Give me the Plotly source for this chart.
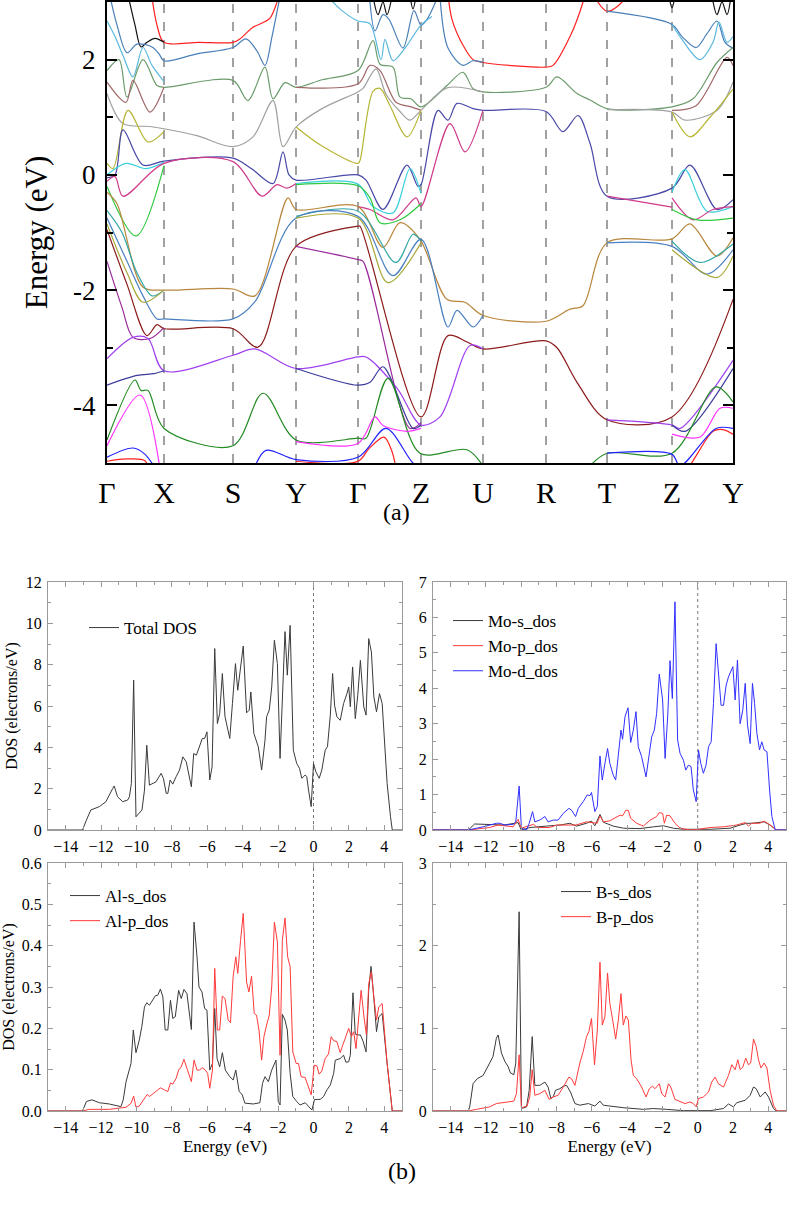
import plotly.graph_objects as go

FONT = "Liberation Serif, Times New Roman, Times, serif"

# ---------------- Band structure data ----------------
K_POINTS = [0, 57, 126, 189, 251, 314, 376, 439, 500, 565, 626]
K_LABELS = ["Γ", "X", "S", "Y", "Γ", "Z", "U", "R", "T", "Z", "Y"]

RED_TOP = [(44, 3.2), (50, 2.6), (57, 2.30), (92, 2.30), (126, 2.30), (133, 2.36), (145, 2.55), (158, 2.66),
           (163, 2.72), (170, 3.0), (174, 3.3), None,
           (340, 3.3), (345, 2.7), (356, 2.25), (366, 2.0), (376, 1.95), (439, 1.87), (446, 1.9), (463, 2.4),
           (476, 3.0), (480, 3.3), None,
           (484, 3.2), (500, 2.84), (515, 3.0), (520, 3.2)]
RED_LOW = [(0, -4.97), (20, -4.93), (38, -4.96), (42, -5.2), None,
           (189, -4.97), (251, -4.97), (262, -4.75), (277, -4.55), (285, -4.8), (290, -5.2), None,
           (578, -5.2), (590, -4.85), (606, -4.45), (616, -4.42), (626, -4.5)]
BLACK_TOP = [(20, 3.2), (28, 2.6), (34, 2.22), (40, 2.3), (48, 2.37), (57, 2.30), None,
             (266, 3.1), (271, 2.78), (276, 3.0), (280, 2.78), (285, 3.1), None,
             (303, 3.1), (306, 2.88), (309, 3.1), None,
             (562, 3.1), (565, 2.9), (568, 3.1), None,
             (605, 3.1), (610, 2.78), (615, 3.0), (620, 2.78), (624, 3.1)]
STEEL_TOP = [(3, 3.1), (10, 2.6), (20, 2.12), (30, 2.27), (45, 2.22), (52, 2.1), (57, 1.98), (90, 2.1),
             (126, 2.21), (139, 2.36), (150, 2.15), (158, 1.90), (165, 2.4), (172, 3.0), (175, 3.2), None,
             (262, 3.2), (268, 2.5), (276, 2.78), (282, 2.7), (296, 2.2), (307, 2.85), (314, 2.6),
             (320, 2.7), (331, 3.1), None,
             (333, 3.1), (341, 2.2), (356, 1.9), (366, 1.98), (376, 1.95), None,
             (500, 2.84), (565, 2.61), (575, 2.4), (589, 2.21), (600, 2.45), (610, 2.67), (618, 2.3), (626, 2.2)]
CYAN_TOP = [(0, 2.67), (8, 2.4), (16, 2.07), (26, 1.70), (36, 2.21), (45, 1.9), (57, 1.62), None,
            (215, 3.2), (235, 2.85), (251, 2.67), (263, 2.62), (274, 2.0), (278, 2.35), (286, 1.98),
            (298, 2.2), (314, 2.6), (325, 2.75), None,
            (565, 2.61), (575, 2.35), (593, 2.0), (606, 2.3), (612, 2.65), (620, 2.3), (626, 2.4)]
SEAGREEN = [(0, 1.81), (12, 2.0), (20, 1.35), (36, 2.0), (50, 1.55), (57, 1.52), (126, 1.64), (141, 1.29),
            (158, 1.87), (166, 1.32), (178, 1.6), (189, 1.52), (215, 1.65), (251, 1.81), (266, 2.33),
            (273, 1.92), (286, 1.87), (293, 1.35), (304, 1.32), (314, 1.18), (340, 1.55), (356, 1.78),
            (366, 1.5), (376, 1.44), (439, 1.52), (450, 1.7), (470, 1.41), (483, 1.3), (500, 1.15), (565, 1.18),
            (586, 1.32), (610, 1.95), (626, 2.21)]
ROSY = [(0, 1.61), (19, 1.26), (26, 1.64), (43, 1.09), (57, 1.52), None,
        (189, 1.52), (251, 1.58), (263, 1.9), (273, 1.81), (289, 1.26), (304, 1.18), (314, 1.12), None,
        (565, 1.12), (589, 1.2), (620, 2.04), (626, 1.9)]
GRAY = [(0, 1.41), (16, 0.89), (43, 0.84), (57, 0.8), (90, 0.68), (126, 0.49), (146, 0.66), (166, 1.29),
        (176, 0.49), (189, 0.83), (215, 1.15), (251, 1.44), (256, 1.5), (269, 1.84), (279, 1.4), (293, 1.1),
        (303, 0.95), (314, 1.12), (340, 1.51), (376, 1.44), None,
        (500, 1.13), (565, 1.09), (578, 0.95), (610, 1.12), (626, 1.61)]
OLIVE = [(0, 0.2), (6, 0.11), (21, 1.12), (41, 0.57), (57, 0.75), None,
         (189, 0.83), (215, 0.5), (251, 0.2), (253, 0.25), (266, 1.45), (273, 1.5), (283, 1.2), (300, 0.66),
         (314, 1.12), None,
         (565, 1.09), (583, 0.66), (603, 1.0), (626, 1.49)]
SLATE = [(0, -0.05), (8, 0.0), (16, 0.78), (36, 0.17), (57, 0.24), (126, 0.29), (145, 0.1), (166, -0.15),
         (176, 0.40), (182, 0.0), (189, -0.09), (251, 0.0), (259, -0.09), (276, -0.6), (300, 0.17),
         (311, -0.2), (314, -0.17), (331, 1.12), (341, 0.95), (350, 1.24), (366, 1.15), (376, 1.12),
         (439, 1.10), (456, 0.75), (471, 1.03), (483, 0.55), (500, -0.37), (565, -0.23), (583, 0.17),
         (610, -0.6), (626, -0.43)]
CYAN_LOW = [(0, 0.0), (19, 0.2), (39, 0.11), (57, 0.22), None,
            (189, -0.15), (251, -0.16), (266, -0.55), (286, -0.66), (303, 0.11), (314, -0.32), None,
            (565, -0.3), (578, 0.09), (600, -0.63), (626, -0.55)]
PINK = [(0, -0.11), (8, -0.03), (16, -0.37), (57, 0.2), (126, 0.23), (155, -0.37), (170, -0.17),
        (180, -0.23), (189, -0.15), None,
        (251, -0.55), (263, -0.6), (286, -0.78), (309, -0.4), (314, -0.55), (343, 0.89), (358, 0.4),
        (376, 1.12), None,
        (500, -0.37), (565, -0.56), None,
        (565, -0.4), (586, -0.78), (606, -0.6), (626, -0.55)]
LIME = [(0, -0.2), (29, -1.06), (57, 0.16), None,
        (189, -0.17), (251, -0.19), (263, -0.4), (273, -0.83), (293, -0.78), (314, -0.5), None,
        (565, -0.6), (590, -0.78), (626, -0.75)]
TAN = [(0, -0.3), (10, -0.5), (36, -1.95), (57, -2.0), (126, -1.98), (148, -2.1), (181, -0.4), (189, -0.6),
       (251, -0.55), (276, -1.26), (293, -0.83), (313, -1.12), (340, -2.16), (358, -2.21), (376, -2.44),
       (439, -2.54), (463, -2.33), (476, -2.27), (500, -1.18), (565, -1.11), (583, -0.85), (610, -1.41),
       (626, -1.09)]
TEAL = [(0, -0.62), (15, -1.0), (30, -1.7), (45, -2.1), (57, -2.0), None,
        (189, -0.72), (251, -0.63), (289, -1.52), (306, -1.03), (314, -1.15), None,
        (565, -1.15), (593, -1.52), (626, -1.2)]
STEEL_LOW = [(0, -0.75), (20, -1.5), (36, -2.1), (50, -2.5), (57, -2.5), (126, -2.5), (148, -2.2),
             (189, -0.75), (251, -0.72), (286, -1.75), (314, -1.12), (341, -2.64), (350, -2.35),
             (366, -2.64), (376, -2.44), None,
             (500, -1.18), (565, -1.24), (600, -1.72), (626, -1.3)]
OLIVE_LOW = [(0, -0.85), (20, -1.7), (36, -2.21), (57, -2.0), None,
             (189, -0.75), (251, -0.75), (281, -1.87), (314, -1.18), None,
             (565, -1.3), (610, -1.78), (626, -1.41)]
DARKRED = [(0, -0.95), (20, -1.9), (40, -2.79), (50, -2.6), (57, -2.67), (126, -2.67), (151, -2.99),
           (189, -1.24), (251, -0.89), (253, -0.89), (314, -4.2), (341, -2.79), (360, -2.9), (376, -3.02),
           (439, -2.88), (450, -3.0), (470, -3.6), (500, -4.25), (565, -4.2), (626, -2.16)]
PURPLE = [(0, -1.5), (15, -2.3), (26, -2.82), (43, -2.84), (57, -2.65), None,
          (189, -1.24), (251, -1.47), (256, -1.5), (303, -4.4), (314, -4.3)]
VIOLET = [(0, -3.19), (26, -2.82), (41, -2.84), (57, -3.4), (126, -3.13), (148, -3.02), (189, -3.36),
          (251, -3.16), (259, -3.16), (290, -3.7), (314, -4.34), (333, -4.2), (363, -2.96), (376, -3.02), None,
          (500, -4.25), (565, -4.34), (573, -4.4), (626, -3.22)]
NAVY = [(0, -3.65), (30, -3.48), (47, -3.45), (57, -3.4), None,
        (189, -3.36), (251, -3.65), (263, -3.6), (276, -3.33), (306, -4.4), (314, -4.34), None,
        (565, -4.34), (578, -4.45), (626, -3.36)]
GREEN = [(0, -4.6), (28, -3.56), (34, -3.74), (41, -3.74), (57, -4.4), (126, -4.7), (156, -3.79),
         (189, -4.6), (251, -4.57), (259, -4.57), (281, -3.53), (313, -4.83), (360, -4.77), (376, -5.05), None,
         (483, -5.05), (500, -4.83), (565, -4.83), (609, -3.68), (626, -3.94)]
MAGENTA = [(0, -4.7), (33, -3.82), (53, -5.1), None,
           (189, -4.63), (251, -4.66), (268, -4.2), (276, -4.35), (300, -4.45), (314, -4.4), None,
           (565, -4.5), (593, -4.55), (613, -4.05), (626, -4.05)]
BLUE = [(0, -4.9), (26, -4.74), (38, -4.85), (52, -5.2), None,
        (147, -5.1), (159, -4.78), (189, -4.94), (251, -4.9), (279, -4.4), (306, -5.0), (316, -5.1), None,
        (500, -4.83), (565, -4.85), (573, -5.05), (609, -4.4), (626, -4.4)]

BANDS = [
    (RED_TOP, "#ff2020"), (RED_LOW, "#ff2020"), (BLACK_TOP, "#111111"), (STEEL_TOP, "#4a7fb8"),
    (CYAN_TOP, "#58b8dc"), (SEAGREEN, "#6b9b6b"), (ROSY, "#a06868"), (GRAY, "#a0a0a0"),
    (OLIVE, "#b5b532"), (SLATE, "#4848a8"), (CYAN_LOW, "#3ad0dc"), (PINK, "#d03a8a"),
    (LIME, "#30c840"), (TAN, "#b8863b"), (TEAL, "#30a5a5"), (STEEL_LOW, "#4a80c0"),
    (OLIVE_LOW, "#a8a838"), (DARKRED, "#8b1a1a"), (PURPLE, "#9a2a9a"), (VIOLET, "#a040f0"),
    (NAVY, "#3a3a9a"), (GREEN, "#228b22"), (MAGENTA, "#ff30ff"), (BLUE, "#2222ff"),
]

# ---------------- DOS data ----------------
TOTAL_E = [-15, -13.05, -12.83, -12.58, -12.1, -11.73, -11.35, -11.26, -11.07, -10.78, -10.5, -10.4, -10.29,
           -10.16, -10.03, -9.84, -9.69, -9.55, -9.42, -9.27, -8.9, -8.61, -8.48, -8.32, -8.23, -8.1, -7.95,
           -7.76, -7.57, -7.38, -7.19, -6.9, -6.77, -6.62, -6.43, -6.28, -6.15, -6.02, -5.86, -5.73, -5.58,
           -5.43, -5.3, -5.15, -5.0, -4.73, -4.58, -4.41, -4.28, -4.12, -3.97, -3.78, -3.63, -3.54, -3.37,
           -3.12, -2.93, -2.74, -2.65, -2.5, -2.36, -2.21, -2.04, -1.89, -1.74, -1.61, -1.48, -1.32, -1.14,
           -0.95, -0.79, -0.66, -0.47, -0.38, -0.28, -0.13, 0.0, 0.13, 0.32, 0.47, 0.66, 0.79, 0.95, 1.08,
           1.19, 1.32, 1.51, 1.70, 1.89, 1.99, 2.08, 2.21, 2.36, 2.5, 2.65, 2.84, 2.97, 3.12, 3.27, 3.41,
           3.56, 3.73, 3.88, 4.01, 4.16, 4.35, 4.45, 5.0]
TOTAL_DOS = [0, 0, 0.48, 0.97, 1.13, 1.37, 2.0, 2.13, 1.61, 1.37, 1.45, 1.61, 2.25, 7.25, 0.64, 0.8, 0.97,
             1.93, 4.1, 2.17, 2.33, 2.74, 2.5, 1.77, 1.77, 2.42, 2.22, 2.58, 2.9, 3.54, 3.3, 2.09, 3.7, 3.62,
             4.03, 4.43, 4.43, 4.75, 2.42, 3.06, 8.78, 5.15, 5.64, 7.57, 5.48, 4.43, 6.12, 8.05, 6.76, 7.97,
             8.9, 5.67, 5.8, 6.68, 4.67, 4.03, 2.9, 4.35, 5.48, 5.8, 6.92, 9.18, 8.05, 3.46, 7.25, 9.6, 7.49,
             9.9, 3.86, 3.22, 2.98, 2.5, 2.66, 2.58, 1.93, 1.13, 3.22, 2.82, 2.5, 2.9, 3.86, 4.03, 5.56, 7.57,
             6.04, 5.48, 5.31, 6.12, 6.6, 6.92, 5.96, 7.89, 5.39, 6.52, 8.21, 5.96, 5.56, 9.26, 8.62, 6.44,
             5.72, 6.6, 6.12, 4.51, 2.25, 0.64, 0, 0]

MOD_E = [-15, -13.0, -12.16, -11.4, -11.22, -10.93, -10.46, -10.31, -10.12, -9.99, -9.7, -9.55, -9.36, -9.23,
         -8.95, -8.66, -8.48, -8.19, -7.91, -7.62, -7.3, -7.15, -6.92, -6.77, -6.49, -6.26, -6.11, -6.02,
         -5.83, -5.69, -5.54, -5.41, -5.26, -5.11, -4.98, -4.79, -4.65, -4.5, -4.35, -4.26, -4.12, -3.95,
         -3.8, -3.65, -3.5, -3.37, -3.18, -2.93, -2.74, -2.61, -2.46, -2.33, -2.18, -1.99, -1.85, -1.7,
         -1.57, -1.44, -1.29, -1.14, -1.0, -0.81, -0.68, -0.53, -0.38, -0.25, -0.09, 0.04, 0.17, 0.32, 0.47,
         0.61, 0.76, 0.89, 1.04, 1.17, 1.32, 1.46, 1.61, 1.74, 1.87, 1.99, 2.12, 2.25, 2.4, 2.55, 2.69, 2.82,
         2.97, 3.1, 3.22, 3.35, 3.5, 3.63, 3.76, 3.92, 4.07, 4.2, 4.39, 5.0]
MOD_DOS = [0, 0, 0.09, 0.19, 0.19, 0.14, 0.16, 0.23, 1.24, 0.05, 0, 0.19, 0.52, 0.23, 0.28, 0.38, 0.23, 0.28,
           0.28, 0.47, 0.61, 0.56, 0.38, 0.61, 0.8, 0.99, 0.97, 1.06, 0.52, 0.66, 2.09, 1.41, 1.88, 2.30,
           1.88, 1.55, 1.41, 2.07, 2.82, 2.56, 3.2, 3.45, 2.47, 2.82, 3.34, 2.35, 2.07, 1.5, 2.26, 2.63,
           2.82, 3.29, 4.4, 3.67, 2.02, 3.24, 4.78, 3.71, 6.44, 2.54, 2.16, 1.97, 1.69, 1.83, 1.79, 1.13,
           0.8, 2.26, 1.88, 1.6, 1.83, 2.35, 2.49, 3.57, 5.26, 4.51, 3.52, 3.52, 4.09, 4.32, 4.46, 4.61, 3.67,
           4.8, 3.0, 3.38, 4.14, 2.96, 2.44, 4.14, 3.57, 2.73, 2.26, 2.49, 2.26, 2.21, 1.13, 0.38, 0, 0]

MOP_E = [-15, -13.0, -11.8, -11.3, -10.46, -10.18, -10.0, -9.5, -9.3, -9.1, -8.4, -8.0, -7.4, -6.9, -6.3,
         -5.7, -5.54, -5.35, -4.98, -4.6, -4.4, -4.26, -4.07, -3.93, -3.8, -3.46, -3.08, -2.7, -2.33, -2.18,
         -1.99, -1.89, -1.76, -1.57, -1.29, -1.0, -0.44, 0.04, 0.7, 1.46, 2.2, 2.69, 2.87, 3.06, 3.5, 3.76,
         4.1, 4.45, 5.0]
MOP_DOS = [0, 0, 0.07, 0.14, 0.09, 0.3, 0.05, 0.14, 0.16, 0.07, 0.07, 0.14, 0.14, 0.14, 0.23, 0.19, 0.40,
           0.23, 0.26, 0.38, 0.42, 0.4, 0.56, 0.55, 0.33, 0.19, 0.11, 0.28, 0.38, 0.49, 0.47, 0.19, 0.42,
           0.4, 0.19, 0.05, 0.0, 0.02, 0.07, 0.09, 0.14, 0.21, 0.11, 0.19, 0.19, 0.25, 0.14, 0, 0]

MOS_E = [-15, -13.0, -12.64, -11.8, -11.0, -10.37, -10.18, -10.0, -9.5, -8.57, -7.8, -7.25, -6.87, -6.3,
         -6.02, -5.83, -5.54, -5.35, -4.79, -4.2, -3.27, -2.5, -1.95, -1.38, -0.81, 0.7, 1.83, 2.4, 2.78,
         3.06, 3.35, 3.76, 4.1, 4.45, 5.0]
MOS_DOS = [0, 0, 0.17, 0.16, 0.14, 0.19, 0.21, 0, 0.07, 0.11, 0.14, 0.19, 0.11, 0.19, 0.25, 0.12, 0.44,
           0.22, 0.11, 0.05, 0.04, 0.09, 0.12, 0.05, 0.02, 0.02, 0.05, 0.14, 0.19, 0.19, 0.21, 0.23, 0.14,
           0, 0]

ALS_E = [-15, -13.05, -12.83, -12.52, -12.1, -11.54, -10.88, -10.75, -10.59, -10.31, -10.18, -10.03, -9.84,
         -9.7, -9.55, -9.42, -9.27, -9.08, -8.93, -8.8, -8.65, -8.51, -8.38, -8.23, -8.08, -7.95, -7.81,
         -7.62, -7.47, -7.32, -7.15, -6.9, -6.75, -6.58, -6.47, -6.3, -6.15, -6.02, -5.86, -5.71, -5.58,
         -5.45, -5.3, -5.15, -4.98, -4.73, -4.54, -4.39, -4.2, -4.03, -3.88, -3.4, -3.03, -2.88, -2.74,
         -2.55, -2.36, -2.12, -1.99, -1.89, -1.76, -1.61, -1.48, -1.32, -1.17, -0.95, -0.76, -0.47, -0.28,
         -0.09, 0.06, 0.38, 0.57, 0.76, 0.95, 1.14, 1.23, 1.51, 1.7, 1.83, 1.99, 2.08, 2.23, 2.36, 2.5,
         2.65, 2.8, 2.97, 3.12, 3.25, 3.41, 3.56, 3.69, 3.88, 4.16, 4.45, 5.0]
ALS_DOS = [0, 0, 0.023, 0.027, 0.02, 0.017, 0.0105, 0.027, 0.071, 0.115, 0.196, 0.141, 0.172, 0.204, 0.252,
           0.262, 0.256, 0.268, 0.279, 0.28, 0.295, 0.276, 0.196, 0.196, 0.268, 0.224, 0.228, 0.292, 0.272,
           0.294, 0.284, 0.197, 0.457, 0.373, 0.3, 0.288, 0.248, 0.244, 0.099, 0.115, 0.248, 0.127, 0.107,
           0.141, 0.099, 0.083, 0.075, 0.099, 0.047, 0.04, 0.019, 0.017, 0.02, 0.067, 0.083, 0.071, 0.099,
           0.123, 0.023, 0.0145, 0.234, 0.22, 0.196, 0.091, 0.035, 0.023, 0.0145, 0.02, 0.0105, 0.0024,
           0.028, 0.028, 0.035, 0.051, 0.063, 0.091, 0.123, 0.127, 0.135, 0.118, 0.119, 0.135, 0.286, 0.186,
           0.184, 0.184, 0.169, 0.143, 0.292, 0.35, 0.272, 0.192, 0.228, 0.236, 0.115, 0, 0]

ALP_E = [-15, -13.05, -12.67, -11.54, -10.59, -10.31, -10.16, -10.03, -9.84, -9.65, -9.4, -9.27, -8.9, -8.65,
         -8.42, -8.23, -8.08, -7.95, -7.76, -7.62, -7.47, -7.32, -7.15, -6.9, -6.75, -6.58, -6.43, -6.3,
         -6.11, -5.98, -5.86, -5.71, -5.58, -5.43, -5.3, -5.15, -5.0, -4.82, -4.69, -4.54, -4.39, -4.28,
         -4.12, -3.97, -3.78, -3.65, -3.5, -3.35, -3.22, -3.08, -2.93, -2.8, -2.65, -2.5, -2.36, -2.21, -2.04,
         -1.89, -1.76, -1.61, -1.46, -1.32, -1.17, -0.98, -0.85, -0.7, -0.47, -0.28, -0.13, 0.04, 0.19, 0.32,
         0.47, 0.66, 0.85, 1.0, 1.14, 1.32, 1.51, 1.65, 1.8, 1.99, 2.14, 2.27, 2.4, 2.55, 2.69, 2.84, 2.99,
         3.12, 3.27, 3.41, 3.56, 3.69, 3.88, 4.16, 4.45, 5.0]
ALP_DOS = [0, 0, 0.004, 0.004, 0.009, 0.0185, 0.036, 0.009, 0.012, 0.023, 0.04, 0.035, 0.047, 0.056, 0.051,
           0.047, 0.068, 0.065, 0.079, 0.099, 0.107, 0.125, 0.103, 0.071, 0.123, 0.099, 0.099, 0.105, 0.099,
           0.091, 0.055, 0.099, 0.345, 0.196, 0.196, 0.278, 0.272, 0.22, 0.214, 0.325, 0.373, 0.333, 0.413,
           0.478, 0.312, 0.288, 0.326, 0.236, 0.232, 0.196, 0.123, 0.18, 0.208, 0.232, 0.3, 0.457, 0.409,
           0.135, 0.413, 0.467, 0.373, 0.349, 0.143, 0.115, 0.115, 0.083, 0.081, 0.059, 0.039, 0.111, 0.109,
           0.089, 0.097, 0.127, 0.138, 0.18, 0.17, 0.168, 0.141, 0.159, 0.176, 0.2, 0.18, 0.192, 0.151, 0.22,
           0.292, 0.232, 0.184, 0.308, 0.337, 0.276, 0.22, 0.252, 0.26, 0.115, 0, 0]

BS_E = [-15, -13.0, -12.92, -12.73, -12.5, -12.16, -11.79, -11.6, -11.41, -11.31, -11.12, -10.93, -10.75,
        -10.61, -10.42, -10.31, -10.12, -9.99, -9.7, -9.55, -9.38, -9.23, -8.95, -8.66, -8.48, -8.32, -8.19,
        -8.06, -7.81, -7.62, -7.43, -7.21, -6.96, -6.68, -6.2, -5.83, -5.54, -5.35, -4.98, -4.22, -3.08,
        -2.52, -1.76, -0.81, 0.7, 1.46, 1.74, 2.02, 2.21, 2.69, 2.97, 3.16, 3.31, 3.54, 3.82, 4.01, 4.29,
        4.45, 5.0]
BS_DOS = [0, 0, 0.05, 0.33, 0.39, 0.43, 0.58, 0.66, 0.88, 0.92, 0.70, 0.6, 0.54, 0.46, 0.44, 0.58, 2.41,
          0.03, 0.05, 0.25, 0.9, 0.31, 0.31, 0.35, 0.29, 0.15, 0.17, 0.25, 0.27, 0.3, 0.31, 0.23, 0.09, 0.07,
          0.09, 0.06, 0.12, 0.07, 0.06, 0.04, 0.02, 0.03, 0.02, 0.004, 0.004, 0.03, 0.085, 0.05, 0.1, 0.13,
          0.19, 0.29, 0.27, 0.17, 0.23, 0.17, 0.03, 0, 0]

BP_E = [-15, -13.0, -12.54, -11.79, -11.41, -11.03, -10.42, -10.27, -10.12, -9.99, -9.67, -9.52, -9.38, -9.23,
        -8.95, -8.66, -8.42, -8.19, -7.91, -7.62, -7.3, -7.15, -6.96, -6.68, -6.49, -6.3, -6.17, -6.02, -5.85,
        -5.69, -5.54, -5.41, -5.26, -5.11, -4.98, -4.82, -4.65, -4.5, -4.35, -4.22, -4.07, -3.93, -3.78,
        -3.65, -3.46, -3.18, -2.93, -2.74, -2.57, -2.42, -2.18, -2.04, -1.85, -1.66, -1.53, -1.29, -1.0,
        -0.72, -0.44, -0.25, -0.09, 0.04, 0.32, 0.61, 0.79, 0.98, 1.17, 1.46, 1.74, 1.93, 2.12, 2.27, 2.4,
        2.55, 2.72, 2.87, 3.0, 3.16, 3.31, 3.44, 3.58, 3.76, 3.92, 4.1, 4.29, 4.48, 5.0]
BP_DOS = [0, 0, 0.02, 0.05, 0.09, 0.1, 0.12, 0.21, 0.68, 0.04, 0.06, 0.17, 0.5, 0.19, 0.21, 0.25, 0.14, 0.17,
          0.19, 0.29, 0.41, 0.39, 0.31, 0.58, 0.72, 0.9, 0.96, 1.12, 0.56, 0.98, 1.8, 1.04, 1.14, 1.67, 1.3,
          1.1, 0.87, 1.1, 1.42, 1.04, 1.15, 1.1, 0.62, 0.43, 0.39, 0.29, 0.17, 0.27, 0.3, 0.27, 0.33, 0.21,
          0.17, 0.33, 0.29, 0.14, 0.11, 0.09, 0.11, 0.09, 0.05, 0.15, 0.17, 0.23, 0.35, 0.41, 0.33, 0.29,
          0.43, 0.56, 0.5, 0.62, 0.5, 0.53, 0.64, 0.56, 0.58, 0.87, 0.78, 0.62, 0.52, 0.58, 0.52, 0.25,
          0.07, 0, 0]

# ---------------- Figure ----------------
W, H = 787, 1207
fig = go.Figure()


def unpack(nodes):
    ks, es = [], []
    for n in nodes:
        if n is None:
            ks.append(None)
            es.append(None)
        else:
            ks.append(n[0])
            es.append(n[1])
    return ks, es


for nodes, col in BANDS:
    ks, es = unpack(nodes)
    fig.add_trace(go.Scatter(x=ks, y=es, mode="lines", showlegend=False, hoverinfo="skip",
                             line=dict(color=col, width=1.2, shape="spline", smoothing=0.9),
                             xaxis="x", yaxis="y"))

BLK = "#3a3a3a"
RED = "#ff3a3a"
BLU = "#3030ff"
dos_traces = [
    (TOTAL_E, TOTAL_DOS, "Total DOS", BLK, "2", "legend"),
    (MOS_E, MOS_DOS, "Mo-s_dos", BLK, "3", "legend2"),
    (MOP_E, MOP_DOS, "Mo-p_dos", RED, "3", "legend2"),
    (MOD_E, MOD_DOS, "Mo-d_dos", BLU, "3", "legend2"),
    (ALS_E, ALS_DOS, "Al-s_dos", BLK, "4", "legend3"),
    (ALP_E, ALP_DOS, "Al-p_dos", RED, "4", "legend3"),
    (BS_E, BS_DOS, "B-s_dos", BLK, "5", "legend4"),
    (BP_E, BP_DOS, "B-p_dos", RED, "5", "legend4"),
]
for e, d, name, col, ax, lg in dos_traces:
    fig.add_trace(go.Scatter(x=e, y=d, mode="lines", name=name, legend=lg,
                             line=dict(color=col, width=1), xaxis="x" + ax, yaxis="y" + ax))


def px_x(v):
    return v / W


def px_y(v):
    return 1 - v / H


band_x = [px_x(107), px_x(733)]
band_y = [px_y(463), px_y(2)]
dos_xl = [px_x(48), px_x(402)]
dos_xr = [px_x(433), px_x(786)]
dos_yt = [px_y(830), px_y(582)]
dos_yb = [px_y(1111), px_y(863)]

fig.update_layout(
    width=W, height=H, autosize=False,
    margin=dict(l=0, r=0, t=0, b=0, autoexpand=False),
    paper_bgcolor="white", plot_bgcolor="white",
    font=dict(family=FONT, color="black"),
    xaxis=dict(domain=band_x, anchor="y", range=[K_POINTS[0], K_POINTS[-1]], tickmode="array",
               tickvals=K_POINTS, ticktext=K_LABELS, ticks="", showgrid=False, zeroline=False,
               showline=True, linecolor="black", linewidth=2, mirror=True, automargin=False,
               tickfont=dict(family=FONT, size=30, color="black"), ticklabelstandoff=2),
    yaxis=dict(domain=band_y, anchor="x", range=[-5, 3], tickmode="array", tickvals=[-4, -2, 0, 2],
               ticktext=["-4", "-2", "0", "2"], ticks="inside", ticklen=10, tickwidth=2, tickcolor="black",
               minor=dict(tickmode="array", tickvals=[-3, -1, 1], ticks="inside", ticklen=6, tickwidth=2,
                          tickcolor="black"),
               showgrid=False, zeroline=False, showline=True, linecolor="black", linewidth=2,
               mirror="allticks", tickfont=dict(family=FONT, size=27, color="black"),
               ticklabelstandoff=4, automargin=False,
               title=dict(text="Energy (eV)", font=dict(family=FONT, size=31, color="black"), standoff=16)),
)

GRAYLINE = "#9a9a9a"


def dos_xaxis(domain, anchor, show_title):
    d = dict(domain=domain, anchor=anchor, range=[-15, 5], tickmode="array",
             tickvals=list(range(-14, 5, 2)), ticks="inside", ticklen=5, tickcolor=GRAYLINE,
             minor=dict(tickmode="array", tickvals=list(range(-15, 6, 2)), ticks="inside", ticklen=3,
                        tickcolor=GRAYLINE),
             showgrid=False, zeroline=False, showline=True, linecolor=GRAYLINE, linewidth=1,
             mirror="allticks", tickfont=dict(family=FONT, size=16, color="black"), ticklabelstandoff=2,
             automargin=False)
    if show_title:
        d["title"] = dict(text="Energy (eV)", font=dict(family=FONT, size=17, color="black"), standoff=4)
    return d


def dos_yaxis(domain, anchor, rng, major, minor, show_title):
    d = dict(domain=domain, anchor=anchor, range=rng, tickmode="array", tickvals=major,
             ticks="inside", ticklen=5, tickcolor=GRAYLINE,
             minor=dict(tickmode="array", tickvals=minor, ticks="inside", ticklen=3, tickcolor=GRAYLINE),
             showgrid=False, zeroline=False, showline=True, linecolor=GRAYLINE, linewidth=1,
             mirror="allticks", tickfont=dict(family=FONT, size=16, color="black"), ticklabelstandoff=2,
             automargin=False)
    if show_title:
        d["title"] = dict(text="DOS (electrons/eV)", font=dict(family=FONT, size=16, color="black"),
                          standoff=4)
    return d


fig.update_layout(
    xaxis2=dos_xaxis(dos_xl, "y2", False),
    yaxis2=dos_yaxis(dos_yt, "x2", [0, 12], [0, 2, 4, 6, 8, 10, 12], [1, 3, 5, 7, 9, 11], True),
    xaxis3=dos_xaxis(dos_xr, "y3", False),
    yaxis3=dos_yaxis(dos_yt, "x3", [0, 7], [0, 1, 2, 3, 4, 5, 6, 7],
                     [0.5, 1.5, 2.5, 3.5, 4.5, 5.5, 6.5], False),
    xaxis4=dos_xaxis(dos_xl, "y4", True),
    yaxis4=dos_yaxis(dos_yb, "x4", [0, 0.6], [0, 0.1, 0.2, 0.3, 0.4, 0.5, 0.6],
                     [0.05, 0.15, 0.25, 0.35, 0.45, 0.55], True),
    xaxis5=dos_xaxis(dos_xr, "y5", True),
    yaxis5=dos_yaxis(dos_yb, "x5", [0, 3], [0, 1, 2, 3], [0.5, 1.5, 2.5], False),
)
fig.update_layout(yaxis4=dict(tickformat=".1f"))

leg_common = dict(bgcolor="rgba(0,0,0,0)", borderwidth=0, font=dict(family=FONT, size=17, color="black"),
                  xanchor="left", yanchor="top", itemwidth=30, tracegroupgap=0)
fig.update_layout(
    legend=dict(x=px_x(84), y=px_y(610), **leg_common),
    legend2=dict(x=px_x(448), y=px_y(603), **leg_common),
    legend3=dict(x=px_x(65), y=px_y(878), **leg_common),
    legend4=dict(x=px_x(556), y=px_y(874), **leg_common),
)

shapes = []
for k in K_POINTS[1:-1]:
    shapes.append(dict(type="line", xref="x", yref="y domain", x0=k, x1=k, y0=0, y1=1, layer="below",
                       line=dict(color="#444444", width=1, dash="dash")))
for ax in ["2", "3", "4", "5"]:
    shapes.append(dict(type="line", xref="x" + ax, yref="y" + ax + " domain", x0=0, x1=0, y0=0, y1=1,
                       layer="below", line=dict(color="#777777", width=1, dash="dot")))
fig.update_layout(shapes=shapes)

fig.update_layout(annotations=[
    dict(text="(a)", x=px_x(396), y=px_y(512), xref="paper", yref="paper", showarrow=False,
         font=dict(family=FONT, size=24, color="black")),
    dict(text="(b)", x=px_x(402), y=px_y(1186), xref="paper", yref="paper", showarrow=False,
         font=dict(family=FONT, size=24, color="black")),
])

fig.write_html("out.html", config={"displayModeBar": False},
               post_script="document.body.style.margin='0px';")
